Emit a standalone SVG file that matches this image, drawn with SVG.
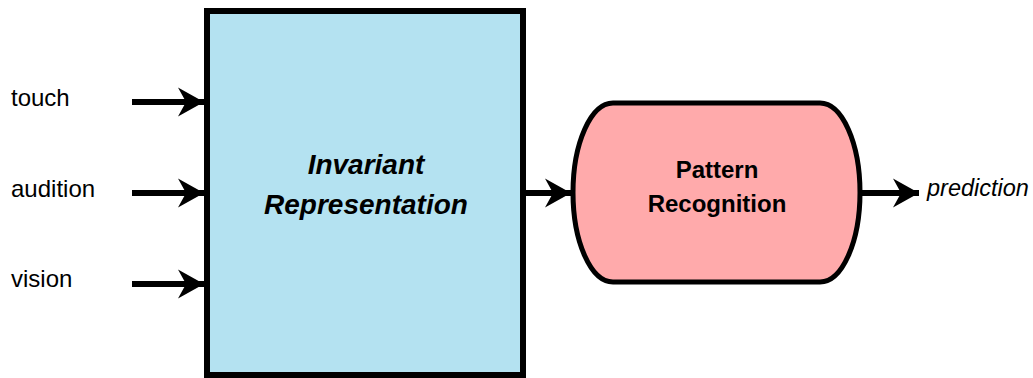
<svg xmlns="http://www.w3.org/2000/svg" width="1033" height="378" viewBox="0 0 1033 378">
<style>
.lbl{font-family:"Liberation Sans",Arial,sans-serif;font-size:24px;fill:#000}
.it{font-style:italic}
.b{font-weight:bold}
.big{font-size:28px}
.conn{stroke:#000;stroke-width:6;fill:none}
</style>
<defs>
<marker id="ah" viewBox="-27 -15 29 30" refX="0" refY="0" markerWidth="29" markerHeight="30" markerUnits="userSpaceOnUse" orient="auto">
<path d="M0,0 L-26,-14.5 L-18,0 L-26,14.5 Z" fill="#000"/>
</marker>
</defs>
<rect width="1033" height="378" fill="#fff"/>
<g id="invariant">
<rect x="207" y="11" width="316" height="364" fill="#b4e2f1" stroke="#000" stroke-width="6"/>
<text class="lbl it b big" x="366" y="174" text-anchor="middle">Invariant</text>
<text class="lbl it b big" x="366" y="214" text-anchor="middle">Representation</text>
</g>
<g id="pattern">
<rect x="573" y="103" width="287" height="179" rx="40" ry="89.5" fill="#ffaaab" stroke="#000" stroke-width="5"/>
<text class="lbl b" x="717" y="178" text-anchor="middle">Pattern</text>
<text class="lbl b" x="717" y="212" text-anchor="middle">Recognition</text>
</g>
<g id="labels">
<text class="lbl" x="11" y="106">touch</text>
<text class="lbl" x="11" y="197">audition</text>
<text class="lbl" x="11" y="287">vision</text>
<text class="lbl it" x="927" y="196" style="font-size:23.5px">prediction</text>
</g>
<g id="connectors">
<line class="conn" x1="132" y1="102" x2="204" y2="102" marker-end="url(#ah)"/>
<line class="conn" x1="132" y1="193" x2="204" y2="193" marker-end="url(#ah)"/>
<line class="conn" x1="132" y1="284" x2="204" y2="284" marker-end="url(#ah)"/>
<line class="conn" x1="526" y1="193" x2="571" y2="193" marker-end="url(#ah)"/>
<line class="conn" x1="862" y1="193" x2="919" y2="193" marker-end="url(#ah)"/>
</g>
</svg>
